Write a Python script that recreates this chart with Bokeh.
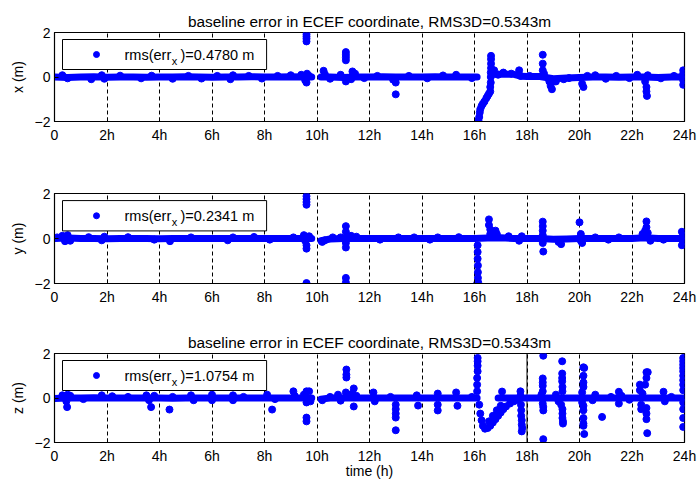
from bokeh.plotting import figure
from bokeh.models import Range1d, FixedTicker, BoxAnnotation, Label, Span
from bokeh.layouts import column
from bokeh.embed import file_html
from bokeh.resources import INLINE

nan = float("nan")
BLUE = "#0000ff"
FONT = "Liberation Sans"

TITLE = "baseline error in ECEF coordinate, RMS3D=0.5343m"
x_ticks = [0, 2, 4, 6, 8, 10, 12, 14, 16, 18, 20, 22, 24]
x_tick_labels = ["0", "2h", "4h", "6h", "8h", "10h", "12h", "14h", "16h", "18h", "20h", "22h", "24h"]
y_ticks = [-2, 0, 2]
rms_labels = ["0.4780 m", "0.2341 m", "1.0754 m"]
axis_names = ["x (m)", "y (m)", "z (m)"]

# ---------------- x component ----------------
x_band_t = [0, 0.5, 1, 1.5, 2, 2.5, 3, 3.5, 4, 4.5, 5, 5.5, 6, 6.5, 7, 7.5, 8, 8.5, 9, 9.5, 9.8, nan,
            10.15, 10.5, 11, 11.5, 12, 12.5, 13, 13.5, 14, 14.5, 15, 15.5, 16, 16.1, nan,
            16.65, 17, 17.5, 17.8, 18, 18.5, 19, 19.5, 20, 20.5, 21, 21.5, 22, 22.5, 23, 23.5, 24]
x_band_v = [0, -0.02, 0, 0.01, -0.01, 0, 0, -0.01, 0, 0, 0.01, 0, -0.01, 0, 0, 0.01, 0, 0, 0.01, 0, 0, nan,
            0, 0, -0.02, 0, 0, 0.01, 0, 0, 0, 0.01, 0, 0, 0, 0, nan,
            0.12, 0.12, 0.12, 0.03, 0.02, 0.02, -0.08, -0.05, -0.02, 0, 0, -0.01, 0, 0, -0.02, 0, 0]
x_pts_t = [0.3, 0.5, 1.4, 1.8, 1.9, 2.5, 3.3, 3.7, 4.5, 5.1, 5.6, 6.2, 6.7, 6.8, 7.4, 7.9, 8.5, 9.0, 9.4,
           9.55, 9.6, 9.62, 9.7, 9.6, 9.6, 9.6, 9.6,
           10.25, 10.3, 10.5, 10.9, 11.1, 11.1, 11.1, 11.1, 11.1, 11.35, 11.45, 11.3, 11.8, 12.3,
           12.9, 13.0, 13.0, 13.5, 14.2, 14.8, 15.3, 15.9,
           16.15, 16.18, 16.2, 16.22, 16.27, 16.32, 16.38, 16.45, 16.5, 16.55, 16.6, 16.6, 16.62,
           16.62, 16.62, 16.63, 16.63, 16.63, 16.63,
           16.75, 16.9, 17.1, 17.4, 17.7, 17.75, 18.1, 18.6, 18.6, 18.6, 18.65, 18.85, 18.9, 18.95,
           19.1, 19.4, 19.6, 20.1, 20.15, 20.3, 20.6, 21.0, 21.4, 21.9, 22.2, 22.5, 22.55, 22.55,
           22.57, 22.6, 23.1, 23.6, 23.95, 23.95, 23.95, 23.95]
x_pts_v = [0.08, -0.06, -0.1, 0.08, -0.08, 0.06, -0.06, 0.06, -0.08, 0.05, -0.07, 0.05, -0.1, 0.08, 0.05, -0.07, 0.05, 0.08, 0.1,
           -0.15, -0.25, 0.15, 0.05, 1.6, 1.72, 1.82, 1.92,
           0.28, 0.12, -0.08, 0.1, -0.2, 0.75, 0.88, 1.0, 1.12, 0.25, 0.15, -0.1, -0.05, 0.05,
           -0.12, -0.25, -0.78, 0.05, -0.06, 0.07, 0.1, -0.05,
           -1.95, -1.8, -1.6, -1.45, -1.3, -1.2, -1.1, -0.95, -0.85, -0.75, -0.65, -0.45, -0.25,
           0.0, 0.2, 0.4, 0.6, 0.8, 0.95,
           0.3, 0.1, 0.2, 0.15, 0.3, 0.05, 0.05, 1.0, 0.6, 0.3, 0.15, -0.2, -0.4, -0.55,
           -0.2, -0.1, -0.05, -0.3, -0.45, 0.05, 0.08, -0.08, 0.05, -0.05, 0.1, -0.2, -0.45, -0.65,
           -0.85, 0.08, -0.06, 0.05, 0.3, 0.15, -0.15, -0.35]

# ---------------- y component ----------------
y_band_t = [0, 0.5, 1, 1.5, 2, 2.5, 3, 3.5, 4, 4.5, 5, 5.5, 6, 6.5, 7, 7.5, 8, 8.5, 9, 9.5, 9.8, nan,
            10.15, 10.5, 11, 11.5, 12, 12.5, 13, 13.5, 14, 14.5, 15, 15.5, 16, 16.5, 17, 17.5, 18,
            18.5, 19, 19.5, 20, 20.5, 21, 21.5, 22, 22.5, 23, 23.5, 24]
y_band_v = [0, 0.02, 0, 0, -0.01, 0, 0, 0, -0.01, 0, 0, 0, 0, 0, 0, 0, 0, 0, 0, 0, 0, nan,
            -0.1, -0.02, 0, 0, 0, 0, 0, 0, 0, 0, 0, 0, 0, 0.02, 0.03, 0, 0,
            0, -0.03, -0.02, 0, 0, 0, 0, 0, 0.03, 0, 0, 0]
y_pts_t = [0.1, 0.3, 0.4, 0.5, 0.6, 1.3, 1.8, 1.9, 2.8, 3.8, 4.4, 5.2, 6.6, 6.8, 7.6, 8.2, 9.1, 9.5,
           9.55, 9.6, 9.6, 9.7, 9.6, 9.6, 9.6, 9.6, 9.6,
           10.2, 10.3, 10.6, 10.9, 11.1, 11.1, 11.1, 11.1, 11.1, 11.1, 11.3, 11.5, 12.4, 13.1, 13.7,
           14.3, 14.6, 15.4,
           16.12, 16.12, 16.12, 16.13, 16.13, 16.13, 16.14, 16.1,
           16.55, 16.55, 16.6, 16.6, 16.8, 16.85, 17.3, 17.7, 17.8, 18.6, 18.6, 18.6, 18.6, 18.6,
           18.62, 19.2, 19.3, 20.0, 20.05, 20.05, 20.1, 20.6, 21.1, 21.5, 22.4, 22.5, 22.55, 22.55,
           22.6, 22.7, 23.2, 23.9, 23.9, 23.95, 23.95]
y_pts_v = [0.05, 0.12, -0.12, 0.15, -0.1, 0.06, -0.08, 0.08, 0.06, -0.05, -0.12, 0.05, -0.08, 0.05, 0.07, -0.05, 0.05, 0.15,
           -0.1, -0.3, -0.45, 0.1, 1.5, 1.62, 1.75, 1.88, -1.98,
           -0.15, -0.08, 0.05, 0.05, 0.3, 0.55, -0.2, -0.4, -1.75, -1.95, 0.12, 0.08, -0.05, 0.05, 0.05,
           -0.05, 0.05, 0.06,
           -0.3, -0.6, -0.9, -1.2, -1.5, -1.75, -1.95, -2.0,
           0.85, 0.6, 0.4, 0.2, 0.35, 0.2, 0.1, -0.1, 0.1, 0.75, 0.55, 0.35, 0.15, -0.2,
           -0.58, -0.15, -0.25, 0.72, 0.2, -0.1, -0.2, 0.05, -0.05, 0.05, 0.2, 0.35, 0.76, 0.5,
           0.25, -0.1, -0.05, 0.3, -0.3, 0.15, -0.15]

# ---------------- z component ----------------
z_band_t = [0, 0.5, 1, 1.5, 2, 2.5, 3, 3.5, 4, 4.5, 5, 5.5, 6, 6.5, 7, 7.5, 8, 8.5, 9, 9.5, 9.8, nan,
            10.15, 10.5, 11, 11.5, 12, 12.5, 13, 13.5, 14, 14.5, 15, 15.5, 16, 16.1, nan,
            16.9, 17.5, 18, 18.5, 19, 19.5, 20, 20.5, 21, 21.5, 22, 22.5, 23, 23.5, 24]
z_band_v = [-0.02, 0, 0, 0.01, 0, 0, 0, 0, 0, -0.01, 0, 0, 0, 0, 0, 0, 0, 0, 0, 0, 0, nan,
            -0.05, 0, 0, 0, 0, 0, 0, 0, 0, 0, 0, 0, 0, 0, nan,
            0, 0, 0, 0, 0, 0, 0, 0, 0, 0, 0, 0, 0, 0, 0]
z_pts_t = [0.3, 0.45, 0.48, 0.5, 0.6, 1.1, 1.8, 2.2, 2.8, 3.5, 3.6, 3.68, 3.8, 4.38, 4.5, 5.2, 5.3,
           6.0, 6.0, 6.8, 6.8, 7.2, 8.1, 8.29, 8.4, 9.1, 9.15, 9.5, 9.6, 9.6, 9.6, 9.6, 9.7, 9.75,
           10.2, 10.5, 10.8, 10.9, 11.1, 11.12, 11.12, 11.12, 11.4, 11.4, 11.35, 11.5, 12.15, 12.2,
           12.8, 13.0, 13.0, 13.0, 13.0, 13.0, 13.8, 13.85, 14.6, 14.6, 14.6, 15.3, 15.35, 15.9,
           16.1, 16.1, 16.1, 16.12, 16.12, 16.12, 16.12,
           16.18, 16.22, 16.27, 16.32, 16.4, 16.5, 16.6, 16.7, 16.8, 16.9, 17.0, 17.1, 17.2, 17.35,
           17.5, 17.65, 16.55, 16.7, 16.85, 17.0, 17.05,
           17.75, 17.75, 17.77, 17.78, 17.78, 17.8, 17.8, 17.82, 17.8,
           18.62, 18.6, 18.6, 18.6, 18.6, 18.55, 18.6, 18.62, 18.62, 18.62,
           19.34, 19.34, 19.34, 19.34, 19.35, 19.35, 19.3, 19.35, 19.35, 19.35, 19.37, 19.37, 19.1, 19.2,
           20.15, 20.18, 20.15, 20.15, 20.15, 20.1, 20.1, 20.15, 20.15, 20.15, 20.15, 20.15, 20.18,
           20.86, 20.6, 20.5, 21.2, 21.5, 21.5, 21.6, 21.9,
           22.3, 22.3, 22.35, 22.35, 22.4, 22.55, 22.6, 22.55, 22.5, 22.55, 22.55, 22.55, 22.58,
           23.2, 23.25, 23.5,
           23.95, 23.95, 23.95, 23.95, 23.95, 23.95, 23.95, 23.95, 23.95, 23.95, 23.95, 23.95, 23.95]
z_pts_v = [0.12, -0.15, -0.41, 0.15, 0.1, -0.05, 0.12, 0.08, 0.05, 0.12, -0.1, -0.41, 0.1, -0.52, 0.05, 0.12, -0.1,
           0.15, -0.1, 0.12, -0.1, 0.05, 0.15, -0.52, -0.05, 0.3, 0.1, 0.15, 0.3, -0.2, -0.88, -1.05, 0.3, -0.15,
           -0.1, 0.05, 0.15, -0.12, 0.25, 0.92, 1.05, 1.28, 0.43, -0.38, 0.2, 0.1, 0.25, -0.15,
           0.05, -0.3, -0.5, -0.7, -0.88, -1.45, 0.12, -0.34, 0.2, -0.3, -0.56, 0.25, -0.35, 0.05,
           0.3, 0.6, 0.9, 1.2, 1.45, 1.65, 1.8,
           -0.3, -0.7, -1.0, -1.25, -1.38, -1.35, -1.25, -1.1, -0.95, -0.8, -0.65, -0.5, -0.38, -0.25,
           -0.15, -0.08, -1.05, -0.8, -0.55, -0.35, 0.29,
           0.3, 0.1, -0.3, -0.55, -0.8, -1.0, -1.2, -1.35, -1.5,
           1.9, 0.88, 0.7, 0.55, 0.3, 0.15, -0.25, -0.4, -0.56, -1.85,
           1.65, 1.1, 0.9, 0.75, 0.5, 0.3, -0.3, -0.5, -0.7, -0.9, -1.05, -1.15, 0.15, -0.15,
           1.38, 1.35, 1.0, 0.7, 0.5, 0.25, -0.2, -0.35, -0.55, -0.9, -1.15, -1.25, -1.62,
           -0.85, 0.15, -0.1, 0.05, 0.28, -0.25, 0.1, -0.08,
           0.6, 0.35, -0.3, -0.5, 0.2, 1.16, 1.16, 0.9, 0.6, -0.45, -0.7, -0.95, -1.58,
           0.28, -0.15, 0.05,
           1.8, 1.65, 1.5, 1.35, 1.2, 1.0, 0.8, 0.6, 0.35, -0.2, -0.5, -0.9, -1.3]
z_solid_line_t = 18


def make_fig(height, top, bottom, title, ylabel, rms, band_t, band_v, pts_t, pts_v, xlabel=None):
    p = figure(width=699, height=height, x_range=Range1d(0, 24), y_range=Range1d(-2, 2),
               output_backend="svg", toolbar_location=None,
               min_border_left=54, min_border_right=15, min_border_top=top, min_border_bottom=bottom)
    p.background_fill_color = "white"
    p.border_fill_color = "white"
    p.outline_line_color = "black"
    p.outline_line_width = 1.2
    p.outline_line_alpha = 1
    if title:
        p.title.text = title
        p.title.align = "center"
        p.title.text_font = FONT
        p.title.text_font_size = "15.4px"
        p.title.text_font_style = "normal"
        p.title.text_color = "black"
        p.title.standoff = 6
    # axes
    p.xaxis.ticker = FixedTicker(ticks=x_ticks)
    p.xaxis.major_label_overrides = {t: l for t, l in zip(x_ticks, x_tick_labels)}
    p.yaxis.ticker = FixedTicker(ticks=y_ticks)
    for ax in (p.xaxis, p.yaxis):
        ax.major_label_text_font = FONT
        ax.major_label_text_font_size = "14px"
        ax.major_label_text_color = "black"
        ax.axis_line_color = "black"
        ax.major_tick_line_color = "black"
        ax.major_tick_in = 4
        ax.major_tick_out = 0
        ax.minor_tick_line_color = None
        ax.axis_label_text_font = FONT
        ax.axis_label_text_font_size = "14px"
        ax.axis_label_text_font_style = "normal"
        ax.axis_label_text_color = "black"
    p.xaxis.major_label_standoff = 5
    p.yaxis.major_label_standoff = 4
    p.yaxis.axis_label = ylabel
    p.yaxis.axis_label_standoff = 6
    if xlabel:
        p.xaxis.axis_label = xlabel
        p.xaxis.axis_label_standoff = -4
    # grid
    p.xgrid.ticker = FixedTicker(ticks=x_ticks[1:-1])
    p.xgrid.grid_line_color = "black"
    p.xgrid.grid_line_dash = "4 3"
    p.xgrid.grid_line_width = 1
    p.ygrid.visible = False

    p.line(band_t, band_v, line_width=7, line_color=BLUE, line_cap="round", line_join="round")
    p.scatter(pts_t, pts_v, size=7, marker="circle", fill_color=BLUE, line_color=BLUE)

    # legend box (MATLAB style, with subscript)
    box = BoxAnnotation(left=0.305, right=8.08, top=1.685, bottom=0.337,
                        fill_color="white", fill_alpha=1, line_color="black", line_width=1, line_alpha=1)
    p.add_layout(box)
    p.scatter([1.6], [1.01], size=6, marker="circle", fill_color=BLUE, line_color=BLUE, level="overlay")
    common = dict(text_font=FONT, text_color="black", text_baseline="middle", text_align="left")
    p.add_layout(Label(x=2.667, y=1.01, text="rms(err", text_font_size="14.5px", **common))
    p.add_layout(Label(x=4.47, y=0.74, text="x", text_font_size="11px", **common))
    p.add_layout(Label(x=4.8, y=1.01, text=")=" + rms, text_font_size="14.5px", **common))
    return p


p1 = make_fig(166, 32, 45, TITLE, axis_names[0], rms_labels[0], x_band_t, x_band_v, x_pts_t, x_pts_v)
p2 = make_fig(160, 27, 43, None, axis_names[1], rms_labels[1], y_band_t, y_band_v, y_pts_t, y_pts_v)
p3 = make_fig(155, 27, 39, TITLE, axis_names[2], rms_labels[2], z_band_t, z_band_v, z_pts_t, z_pts_v,
              xlabel="time (h)")
p3.add_layout(Span(location=z_solid_line_t, dimension="height", line_color="black", line_width=1,
                   level="underlay"))

layout = column(p1, p2, p3, spacing=0)
open("out.html", "w").write(file_html(layout, INLINE))
